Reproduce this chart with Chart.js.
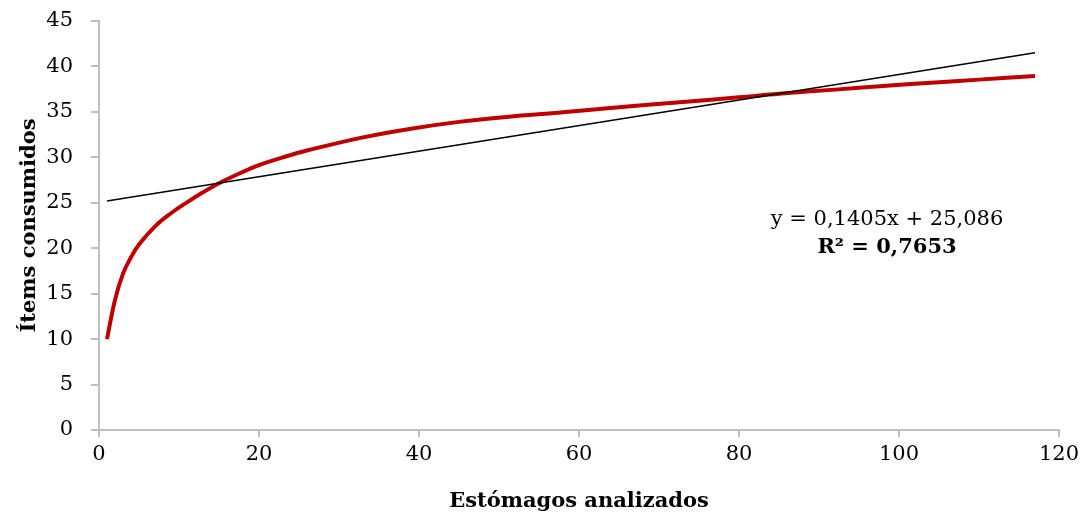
<!DOCTYPE html>
<html>
<head>
<meta charset="utf-8">
<script src="https://cdn.jsdelivr.net/npm/chart.js@4.4.0/dist/chart.umd.min.js"></script>
<style>
html,body{margin:0;padding:0;background:#fff;}
#wrap{width:1088px;height:516px;position:relative;}
</style>
</head>
<body>
<div id="wrap"><canvas id="c" width="1088" height="516"></canvas></div>
<script>
// Rarefaction curve
const curveX = [1,2,3,4,5,7,9,11,13,15,17,20,23,26,33,39,45,51,58,65,73,80,85,92,98,104,110,117];
const curveY = [10,14.3,17.2,19.0,20.4,22.4,23.85,25.05,26.15,27.15,28.0,29.15,30.0,30.75,32.2,33.15,33.9,34.45,34.95,35.5,36.1,36.6,37.0,37.45,37.85,38.2,38.55,38.95];
// Linear trendline endpoints
const trendX = [1,117];
const trendY = [25.2,41.5];
const xTicks = [0,20,40,60,80,100,120];
const yTicks = [0,5,10,15,20,25,30,35,40,45];
const equationText = "y = 0,1405x + 25,086";
const r2Text = "R² = 0,7653";
const xTitle = "Estómagos analizados";
const yTitle = "Ítems consumidos";

const FONT = "'DejaVu Serif', serif";
const toPts = (xs, ys) => xs.map((x,i)=>({x:x, y:ys[i]}));

const annot = {
  id:'annot',
  afterDatasetsDraw(chart){
    const ctx = chart.ctx;
    const xs = chart.scales.x, ys = chart.scales.y;
    const cx = xs.getPixelForValue(98.5);
    ctx.save();
    ctx.fillStyle = '#000';
    ctx.textAlign = 'center';
    ctx.textBaseline = 'middle';
    ctx.font = "21px " + FONT;
    ctx.fillText(equationText, cx, ys.getPixelForValue(23.2));
    ctx.font = "bold 21px " + FONT;
    ctx.fillText(r2Text, cx, ys.getPixelForValue(20.1));
    ctx.restore();
  }
};

const zeroPad = s => { s.paddingTop = 0; s.paddingBottom = 0; s.paddingLeft = 0; s.paddingRight = 0; };

new Chart(document.getElementById('c'), {
  type:'scatter',
  data:{
    datasets:[
      {
        label:'Trend',
        data: toPts(trendX, trendY),
        showLine:true,
        borderColor:'#000',
        borderWidth:1.5,
        pointRadius:0,
        order:0
      },
      {
        label:'Curve',
        data: toPts(curveX, curveY),
        showLine:true,
        borderColor:'#c00000',
        borderWidth:4,
        pointRadius:0,
        tension:0.4,
        order:1
      }
    ]
  },
  options:{
    responsive:false,
    animation:false,
    layout:{padding:{left:0,right:29,top:21,bottom:0}},
    plugins:{legend:{display:false}, tooltip:{enabled:false}},
    scales:{
      x:{
        type:'linear', min:0, max:120,
        afterBuildTicks(s){ s.ticks = xTicks.map(v=>({value:v})); },
        afterFit(s){ s.height = 86; zeroPad(s); },
        border:{color:'#bfbfbf', width:2},
        grid:{display:true, drawOnChartArea:false, drawTicks:true, tickLength:7, color:'#bfbfbf', lineWidth:2},
        ticks:{color:'#000', font:{family:FONT, size:21}, padding:5, maxRotation:0},
        title:{display:true, text:xTitle, color:'#000', font:{family:FONT, size:21, weight:'bold'}, padding:{top:4,bottom:2}}
      },
      y:{
        type:'linear', min:0, max:45,
        afterBuildTicks(s){ s.ticks = yTicks.map(v=>({value:v})); },
        afterFit(s){ s.width = 99; zeroPad(s); },
        border:{color:'#bfbfbf', width:2},
        grid:{display:true, drawOnChartArea:false, drawTicks:true, tickLength:8, color:'#bfbfbf', lineWidth:2},
        ticks:{color:'#000', font:{family:FONT, size:21}, padding:18},
        title:{display:true, text:yTitle, color:'#000', font:{family:FONT, size:21, weight:'bold'}, padding:{top:17,bottom:0}}
      }
    }
  },
  plugins:[annot]
});
</script>
</body>
</html>
